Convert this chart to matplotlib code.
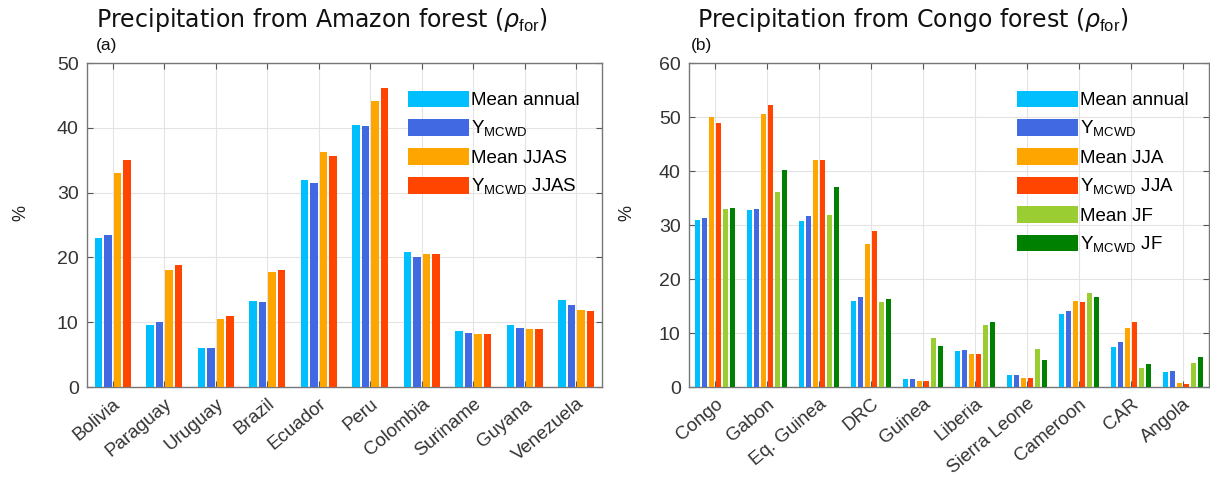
import numpy as np
import matplotlib
matplotlib.use('Agg')
from matplotlib import pyplot as plt

# 国名
amazon_countries = ['Bolivia', 'Paraguay', 'Uruguay', 'Brazil', 'Ecuador',
                    'Peru', 'Colombia', 'Suriname', 'Guyana', 'Venezuela']
congo_countries = ['Congo', 'Gabon', 'Eq. Guinea', 'DRC', 'Guinea',
                   'Liberia', 'Sierra Leone', 'Cameroon', 'CAR', 'Angola']

# (a) Amazon 由来の降水割合 [%]
amz_mean_annual = [23.0, 9.5, 6.0, 13.3, 32.0, 40.4, 20.8, 8.6, 9.6, 13.5]
amz_ymcwd = [23.4, 10.1, 6.0, 13.1, 31.5, 40.3, 20.1, 8.4, 9.1, 12.7]
amz_mean_jjas = [33.0, 18.1, 10.5, 17.8, 36.3, 44.2, 20.6, 8.2, 8.9, 11.9]
amz_ymcwd_jjas = [35.0, 18.9, 10.9, 18.0, 35.6, 46.2, 20.5, 8.2, 8.9, 11.7]

# (b) Congo 由来の降水割合 [%]
cg_mean_annual = [31.0, 32.8, 30.8, 16.0, 1.5, 6.7, 2.3, 13.5, 7.4, 2.7]
cg_ymcwd = [31.3, 33.0, 31.7, 16.7, 1.5, 6.8, 2.3, 14.0, 8.3, 3.0]
cg_mean_jja = [50.0, 50.6, 42.0, 26.4, 1.2, 6.1, 1.6, 16.0, 10.9, 0.7]
cg_ymcwd_jja = [48.8, 52.3, 42.0, 28.8, 1.2, 6.1, 1.6, 15.7, 12.1, 0.5]
cg_mean_jf = [33.0, 36.2, 31.9, 15.8, 9.1, 11.5, 7.1, 17.4, 3.6, 4.5]
cg_ymcwd_jf = [33.2, 40.1, 37.0, 16.3, 7.6, 12.0, 5.0, 16.6, 4.3, 5.6]

sub = r'Y$_{\mathregular{MCWD}}$'
amz_labels = ['Mean annual', sub, 'Mean JJAS', sub + ' JJAS']
cg_labels = ['Mean annual', sub, 'Mean JJA', sub + ' JJA', 'Mean JF', sub + ' JF']
colors = ['#00BFFF', '#4169E1', '#FFA500', '#FF4500', '#9ACD32', '#008000']

plt.rcParams['font.family'] = ['Liberation Sans', 'DejaVu Sans']
plt.rcParams['mathtext.fontset'] = 'custom'
plt.rcParams['mathtext.rm'] = 'Liberation Sans'


def grouped_bar(ax, series, labels, names, ymax, yticks):
    n = len(series)
    x = np.arange(1, len(names) + 1)
    # MATLAB 風のグループ幅
    gw = min(0.8, n / (n + 1.5))
    slot = gw / n
    for i, (vals, lab) in enumerate(zip(series, labels)):
        off = -gw / 2 + slot * (i + 0.5)
        ax.bar(x + off, vals, width=slot * 0.8, color=colors[i], label=lab,
               edgecolor='none', zorder=3)
    ax.set_xlim(0.5, len(names) + 0.5)
    ax.set_ylim(0, ymax)
    ax.set_yticks(yticks)
    ax.set_xticks(x)
    ax.set_xticklabels(names, rotation=40, ha='right', rotation_mode='anchor',
                       fontsize=13.5, color='#333333')
    ax.tick_params(axis='y', labelsize=14, labelcolor='#333333')
    ax.tick_params(direction='in', length=4, color='#555555',
                   top=True, right=True, pad=6)
    ax.grid(True, color='#e3e3e3', lw=0.8, zorder=0)
    for s in ax.spines.values():
        s.set_color('#777777')
        s.set_linewidth(1.0)
    return ax


fig = plt.figure(figsize=(12.1, 4.84), dpi=100)
ax1 = fig.add_axes([0.0719, 0.2004, 0.4256, 0.6694])
ax2 = fig.add_axes([0.5694, 0.2004, 0.4298, 0.6694])

grouped_bar(ax1, [amz_mean_annual, amz_ymcwd, amz_mean_jjas, amz_ymcwd_jjas],
            amz_labels, amazon_countries, 50, [0, 10, 20, 30, 40, 50])
grouped_bar(ax2, [cg_mean_annual, cg_ymcwd, cg_mean_jja, cg_ymcwd_jja,
                  cg_mean_jf, cg_ymcwd_jf],
            cg_labels, congo_countries, 60, [0, 10, 20, 30, 40, 50, 60])

for lx in [0.017, 0.518]:
    fig.text(lx, 0.56, '%', rotation=90, fontsize=13, color='#222222',
             ha='center', va='center')

leg_kw = dict(loc='upper left', frameon=False, fontsize=13.5,
              handlelength=3.3, handleheight=1.0, handletextpad=0.1,
              labelspacing=0.5, borderaxespad=0)
ax1.legend(bbox_to_anchor=(400 / 1210, 1 - 83 / 484),
           bbox_transform=fig.transFigure, **leg_kw)
ax2.legend(bbox_to_anchor=(1009 / 1210, 1 - 83 / 484),
           bbox_transform=fig.transFigure, **leg_kw)

# タイトルとパネル記号
fig.text(96 / 1210, 1 - 27 / 484,
         r'Precipitation from Amazon forest ($\rho_{\mathrm{for}}$)',
         fontsize=17, family='DejaVu Sans', color='#111111')
fig.text(697 / 1210, 1 - 27 / 484,
         r'Precipitation from Congo forest ($\rho_{\mathrm{for}}$)',
         fontsize=17, family='DejaVu Sans', color='#111111')
fig.text(96 / 1210, 1 - 50 / 484, '(a)', fontsize=12.5, color='#111111')
fig.text(691 / 1210, 1 - 50 / 484, '(b)', fontsize=12.5, color='#111111')

fig.savefig('out.png', dpi=100, facecolor='white')
plt.close()
